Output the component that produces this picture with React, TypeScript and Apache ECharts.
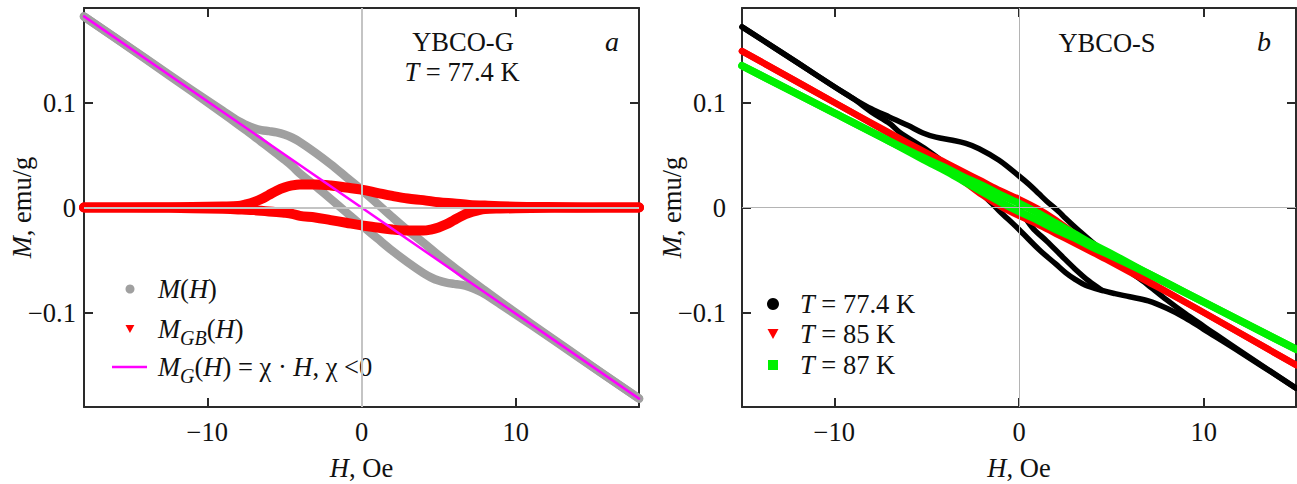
import React, { useEffect, useRef } from 'react';
import * as echarts from 'echarts';

// ---------- Panel a : YBCO-G, T = 77.4 K ----------
// M_GB(H), branch on decreasing field (upper)
const aRedUpH = [-18, -14, -11, -9, -8, -7.5, -7, -6.5, -6, -5.5, -5, -4.5, -4, -3, -2, -1, 0, 1, 2, 3, 4, 5, 6, 7, 8, 10, 12, 15, 18];
const aRedUpM = [0, 0.0002, 0.0005, 0.001, 0.0015, 0.003, 0.005, 0.008, 0.012, 0.016, 0.019, 0.021, 0.022, 0.022, 0.021, 0.019, 0.017, 0.014, 0.011, 0.0085, 0.007, 0.005, 0.0038, 0.0025, 0.0018, 0.0008, 0.0004, 0.0001, 0];
// M_GB(H), branch on increasing field (lower)
const aRedLoH = [-18, -14, -11, -9, -8, -7.5, -7, -6.5, -6, -5.5, -5, -4.5, -4, -3, -2, -1, 0, 1, 2, 3, 4, 4.5, 5, 5.5, 6, 6.5, 7, 7.5, 8, 9, 11, 14, 18];
const aRedLoM = [0, -0.0002, -0.0006, -0.0013, -0.0018, -0.0021, -0.0025, -0.0031, -0.0038, -0.0044, -0.005, -0.006, -0.008, -0.0095, -0.012, -0.0145, -0.017, -0.019, -0.021, -0.022, -0.022, -0.021, -0.019, -0.016, -0.012, -0.008, -0.005, -0.003, -0.0015, -0.001, -0.0005, -0.0002, 0];
// M(H), upper and lower branches
const aGrayUpH = aRedUpH;
const aGrayUpM = [0.182, 0.1418, 0.1117, 0.092, 0.0824, 0.0788, 0.0758, 0.0737, 0.0727, 0.0716, 0.0696, 0.0665, 0.0624, 0.0523, 0.0412, 0.0291, 0.017, 0.0039, -0.0092, -0.0218, -0.0334, -0.0456, -0.0569, -0.0683, -0.0791, -0.1003, -0.1209, -0.1516, -0.182];
const aGrayLoH = aRedLoH;
const aGrayLoM = [0.182, 0.1414, 0.1106, 0.0897, 0.0791, 0.0737, 0.0683, 0.0626, 0.0569, 0.0512, 0.0456, 0.0395, 0.0324, 0.0208, 0.0082, -0.0044, -0.017, -0.0291, -0.0412, -0.0523, -0.0624, -0.0665, -0.0696, -0.0716, -0.0727, -0.0737, -0.0758, -0.0788, -0.0824, -0.092, -0.1117, -0.1418, -0.182];
// M_G(H) = chi * H
const aLinH = [-18, 18];
const aLinM = [0.182, -0.182];

// ---------- Panel b : YBCO-S ----------
const b77UpH = [-15, -12, -10, -9, -8, -7, -6, -5.2, -4.5, -3.6, -2.88, -2.16, -1.08, 0, 0.54, 1.08, 1.5, 2.16, 2.5, 3.24, 4.3, 5, 6, 7, 8, 9, 10, 12, 15];
const b77UpM = [0.172, 0.138, 0.115, 0.104, 0.094, 0.086, 0.078, 0.071, 0.067, 0.064, 0.061, 0.056, 0.045, 0.03, 0.022, 0.013, 0.006, -0.004, -0.01, -0.022, -0.038, -0.047, -0.061, -0.074, -0.088, -0.101, -0.113, -0.137, -0.172];
const b77LoH = [-15, -12, -10, -9, -8, -7, -6.49, -5, -4, -2.88, -2, -1.08, 0, 1.08, 2, 2.52, 3, 3.6, 4.5, 5.2, 6, 7, 8, 9, 10, 12, 15];
const b77LoM = [0.172, 0.138, 0.115, 0.104, 0.091, 0.08, 0.072, 0.055, 0.042, 0.026, 0.013, -0.003, -0.021, -0.04, -0.054, -0.062, -0.068, -0.074, -0.079, -0.082, -0.085, -0.089, -0.096, -0.105, -0.116, -0.138, -0.172];
const b77VirH = [0, 0.72, 1.5, 2.3, 3, 3.78, 4.5];
const b77VirM = [0, -0.019, -0.032, -0.046, -0.058, -0.07, -0.079];

const b85H = [-15, -10, -7, -5, -4, -3, -2, -1, 0, 1, 2, 3, 4, 5, 7, 10, 15];
const b85UpM = [0.149, 0.1, 0.071, 0.052, 0.043, 0.034, 0.025, 0.016, 0.008, -0.001, -0.012, -0.025, -0.037, -0.049, -0.07, -0.1, -0.15];
const b85LoM = [0.149, 0.1, 0.07, 0.049, 0.037, 0.025, 0.012, 0.001, -0.008, -0.016, -0.025, -0.034, -0.043, -0.052, -0.071, -0.1, -0.15];

const b87H = [-15, -10, -7, -5, -4, -3, -2, -1, 0, 1, 2, 3, 4, 5, 7, 10, 15];
const b87UpM = [0.135, 0.09, 0.063, 0.046, 0.038, 0.029, 0.021, 0.012, 0.004, -0.005, -0.015, -0.025, -0.035, -0.044, -0.063, -0.09, -0.135];
const b87LoM = [0.135, 0.09, 0.063, 0.044, 0.035, 0.025, 0.015, 0.005, -0.004, -0.012, -0.021, -0.029, -0.038, -0.046, -0.063, -0.09, -0.135];

const xTicks = [-10, 0, 10];
const yTicks = [-0.1, 0, 0.1];

const FONT = "'Liberation Serif', 'Times New Roman', serif";
const FS = 26.5;
const TXT = '#111';

const zip = (h: number[], m: number[]) => h.map((x, i) => [x, m[i]]);

function lineSeries(name: string, h: number[], m: number[], color: string, width: number, idx: number) {
  return {
    type: 'line', name, data: zip(h, m), xAxisIndex: idx * 2, yAxisIndex: idx * 2,
    showSymbol: false, symbol: 'none', smooth: 0.35, clip: false,
    itemStyle: { color }, lineStyle: { color, width, cap: 'round', join: 'round' },
    emphasis: { disabled: true }, z: 3,
  };
}

const yFmt = (v: number) => (v === 0 ? '0' : v < 0 ? '\u2212' + String(-v) : String(v));
const xFmt = (v: number) => (v < 0 ? '\u2212' + String(-v) : String(v));

const axisLineStyle = { color: '#2a2a2a', width: 2 };
const italic = { fontFamily: FONT, fontSize: FS, fontStyle: 'italic', color: TXT };

function xAxes(grid: number, min: number, max: number) {
  return [
    {
      type: 'value', gridIndex: grid, min, max, position: 'bottom',
      name: '{i|H}, Oe', nameLocation: 'middle', nameGap: 47, nameMoveOverlap: false,
      nameTextStyle: { fontFamily: FONT, fontSize: FS, color: TXT, rich: { i: italic } },
      axisLine: { show: true, onZero: false, lineStyle: axisLineStyle },
      axisTick: { show: true, inside: true, length: 9, lineStyle: { color: '#2a2a2a', width: 2 }, customValues: xTicks },
      axisLabel: { show: true, margin: 11, fontFamily: FONT, fontSize: FS, color: TXT, formatter: xFmt, customValues: xTicks },
      splitLine: { show: false },
    },
    {
      type: 'value', gridIndex: grid, min, max, position: 'top',
      axisLine: { show: true, onZero: false, lineStyle: axisLineStyle },
      axisTick: { show: true, inside: true, length: 9, lineStyle: { color: '#2a2a2a', width: 2 }, customValues: xTicks },
      axisLabel: { show: false },
      splitLine: { show: false },
    },
  ];
}

function yAxes(grid: number, labelMargin: number, nameGap: number) {
  return [
    {
      type: 'value', gridIndex: grid, min: -0.19, max: 0.19, position: 'left',
      name: '{i|M}, emu/g', nameLocation: 'middle', nameGap, nameRotate: 90, nameMoveOverlap: false,
      nameTextStyle: { fontFamily: FONT, fontSize: FS, color: TXT, rich: { i: italic } },
      axisLine: { show: true, onZero: false, lineStyle: axisLineStyle },
      axisTick: { show: true, inside: true, length: 9, lineStyle: { color: '#2a2a2a', width: 2 }, customValues: yTicks },
      axisLabel: { show: true, margin: labelMargin, fontFamily: FONT, fontSize: FS, color: TXT, formatter: yFmt, customValues: yTicks },
      splitLine: { show: false },
    },
    {
      type: 'value', gridIndex: grid, min: -0.19, max: 0.19, position: 'right',
      axisLine: { show: true, onZero: false, lineStyle: axisLineStyle },
      axisTick: { show: true, inside: true, length: 9, lineStyle: { color: '#2a2a2a', width: 2 }, customValues: yTicks },
      axisLabel: { show: false },
      splitLine: { show: false },
    },
  ];
}

function zeroSeries(idx: number, color: string, width: number) {
  return {
    type: 'line', name: 'zero' + idx, data: [], xAxisIndex: idx * 2, yAxisIndex: idx * 2, z: 1, silent: true,
    markLine: {
      silent: true, symbol: ['none', 'none'], label: { show: false },
      lineStyle: { color, width, type: 'solid' }, emphasis: { disabled: true },
      data: [{ xAxis: 0 }, { yAxis: 0 }],
    },
  };
}

const rich = {
  i: { fontFamily: FONT, fontSize: FS, fontStyle: 'italic', color: TXT, lineHeight: 28 },
  n: { fontFamily: FONT, fontSize: FS, color: TXT, lineHeight: 28 },
  s: { fontFamily: FONT, fontSize: 20, fontStyle: 'italic', color: TXT, lineHeight: 28, padding: [18, 0, 0, 0] },
};

const labels: Record<string, string> = {
  'M(H)': '{i|M}{n|(}{i|H}{n|)}',
  'MGB(H)': '{i|M}{s|GB}{n|(}{i|H}{n|)}',
  'MG(H)': '{i|M}{s|G}{n|(}{i|H}{n|) = χ · }{i|H}{n|, χ <0}',
  'T77': '{i|T}{n| = 77.4 K}',
  'T85': '{i|T}{n| = 85 K}',
  'T87': '{i|T}{n| = 87 K}',
};

const TRI = 'path://M0,0 L10,0 L5,9 Z';

function legend(name: string, icon: string, left: number, top: number, w: number, h: number, pad: number) {
  return {
    show: true, orient: 'vertical', left, top, padding: 0, itemGap: 0, itemWidth: w, itemHeight: h,
    selectedMode: false, data: [{ name, icon }],
    formatter: (n: string) => labels[n] || n,
    textStyle: { fontFamily: FONT, fontSize: FS, color: TXT, lineHeight: 28, padding: [0, 0, 0, pad], rich },
  };
}

const F = "26.5px 'Liberation Serif', serif";
const FI = "italic 26.5px 'Liberation Serif', serif";

export default function App() {
  const ref = useRef<HTMLDivElement>(null);
  useEffect(() => {
    if (!ref.current) return;
    const chart = echarts.init(ref.current, null, { renderer: 'svg' });
    const option: any = {
      animation: false,
      backgroundColor: '#ffffff',
      textStyle: { fontFamily: FONT },
      grid: [
        { left: 84, top: 8, width: 555, height: 399, outerBoundsMode: 'none' },
        { left: 742, top: 8, width: 554, height: 399, outerBoundsMode: 'none' },
      ],
      xAxis: [...xAxes(0, -18, 18), ...xAxes(1, -15, 15)],
      yAxis: [...yAxes(0, 8, 49), ...yAxes(1, 16, 57)],
      legend: [
        legend('M(H)', 'circle', 125.5, 275, 9, 9, 18.5),
        legend('MGB(H)', TRI, 125.5, 310, 9, 8, 18.5),
        legend('MG(H)', 'rect', 112, 348, 35, 2.5, 6),
        legend('T77', 'circle', 767, 290, 12, 12, 16),
        legend('T85', TRI, 767.5, 320, 11, 10, 16.5),
        legend('T87', 'rect', 768, 351, 10, 10, 17),
      ],
      series: [
        zeroSeries(0, '#c4c4c4', 2),
        zeroSeries(1, '#b4b4b4', 1),
        lineSeries('M(H)', aGrayUpH, aGrayUpM, '#a0a0a0', 8.5, 0),
        lineSeries('M(H)', aGrayLoH, aGrayLoM, '#a0a0a0', 8.5, 0),
        lineSeries('MGB(H)', aRedUpH, aRedUpM, '#ff0000', 10, 0),
        lineSeries('MGB(H)', aRedLoH, aRedLoM, '#ff0000', 10, 0),
        lineSeries('MG(H)', aLinH, aLinM, '#ff00ff', 2.5, 0),
        lineSeries('T77', b77UpH, b77UpM, '#000000', 5.5, 1),
        lineSeries('T77', b77LoH, b77LoM, '#000000', 5.5, 1),
        lineSeries('T77', b77VirH, b77VirM, '#000000', 5.5, 1),
        lineSeries('T85', b85H, b85UpM, '#ff0000', 6.5, 1),
        lineSeries('T85', b85H, b85LoM, '#ff0000', 6.5, 1),
        lineSeries('T87', b87H, b87UpM, '#00f000', 7.5, 1),
        lineSeries('T87', b87H, b87LoM, '#00f000', 7.5, 1),
      ],
      graphic: [
        { type: 'text', x: 463, y: 42, silent: true, style: { text: 'YBCO-G', align: 'center', verticalAlign: 'middle', font: F, fill: TXT } },
        {
          type: 'text', x: 462, y: 72, silent: true,
          style: {
            text: '{i|T}{n| = 77.4 K}', align: 'center', verticalAlign: 'middle', font: F, fill: TXT,
            rich: { i: { font: FI, fill: TXT }, n: { font: F, fill: TXT } },
          },
        },
        { type: 'text', x: 612, y: 41, silent: true, style: { text: 'a', align: 'center', verticalAlign: 'middle', font: "italic 28px 'Liberation Serif', serif", fill: TXT } },
        { type: 'text', x: 1107, y: 43, silent: true, style: { text: 'YBCO-S', align: 'center', verticalAlign: 'middle', font: F, fill: TXT } },
        { type: 'text', x: 1264, y: 41, silent: true, style: { text: 'b', align: 'center', verticalAlign: 'middle', font: "italic 28px 'Liberation Serif', serif", fill: TXT } },
      ],
    };
    chart.setOption(option);
    return () => chart.dispose();
  }, []);
  return <div ref={ref} style={{ position: 'absolute', left: 0, top: 0, width: 1297, height: 484, background: '#fff' }} />;
}
